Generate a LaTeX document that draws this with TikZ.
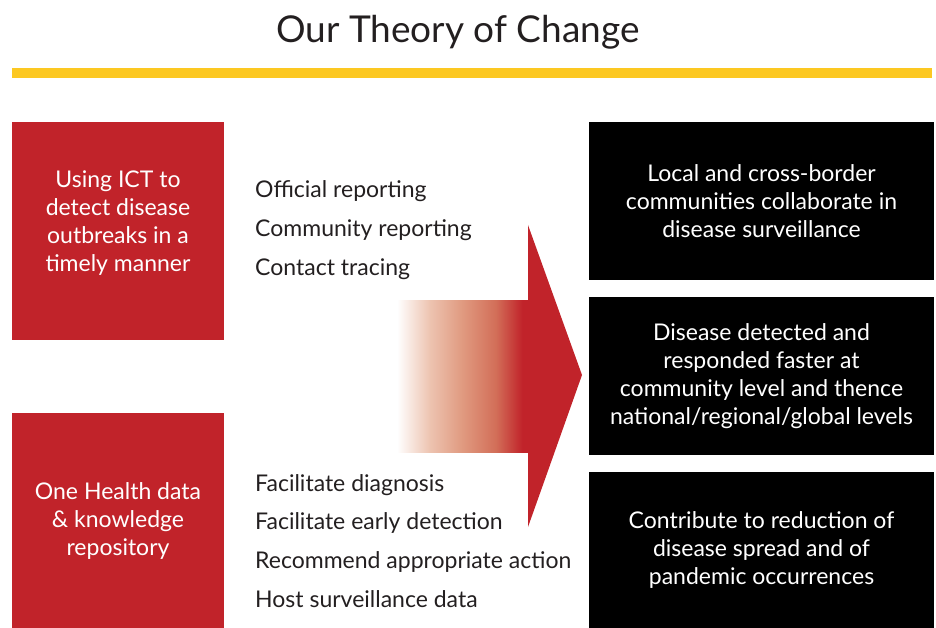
\documentclass[tikz,border=0pt]{standalone}
\usepackage{fontspec}
\setmainfont{Lato}
\usetikzlibrary{positioning}
\definecolor{tocred}{HTML}{C1232A}
\definecolor{tocyellow}{HTML}{FCC822}
\definecolor{toctext}{HTML}{231F20}
% degradado blanco -> salmon -> rojo para el cuerpo de la flecha
% (el rectangulo ocupa la parte de 25bp a 75bp)
\pgfdeclarehorizontalshading{arrowfade}{100bp}{
    rgb(0bp)=(1,1,1);
    rgb(25bp)=(1,1,1);
    rgb(37.5bp)=(0.929,0.765,0.690);
    rgb(50bp)=(0.878,0.6,0.498);
    rgb(62.5bp)=(0.824,0.431,0.345);
    rgb(72.5bp)=(0.757,0.137,0.165);
    rgb(100bp)=(0.757,0.137,0.165)}

\begin{document}
\begin{tikzpicture}[x=1pt,y=-1pt,
    redbox/.style={fill=tocred, minimum width=212pt, inner sep=0pt},
    blackbox/.style={fill=black, minimum width=345pt, inner sep=0pt},
    boxtext/.style={text=white, align=center, font=\fontsize{23}{28}\selectfont},
    item/.style={anchor=mid west, text=toctext, font=\fontsize{23}{28}\selectfont, inner sep=0pt}]
    \useasboundingbox (0,0) rectangle (936,628);
    % Titulo y barra amarilla
    \node[text=toctext, font=\fontsize{37}{40}\selectfont] (title) at (458,32) {Our Theory of Change};
    \fill[tocyellow] (12,68) rectangle (932,78);
    % Cajas rojas de la izquierda
    \node[redbox, minimum height=218pt] (ict) at (118,231) {};
    \node[boxtext] (icttext) at ([yshift=8pt]ict.center) {Using ICT to\\detect disease\\outbreaks in a\\timely manner};
    \node[redbox, minimum height=215pt, boxtext] (repo) at (118,520.5) {One Health data\\\& knowledge\\repository};
    % Listas del medio
    \node[item] (official) at (255,195) {Official reporting};
    \node[item] (community) at (255,234) {Community reporting};
    \node[item] (tracing) at (255,273) {Contact tracing};
    \node[item] (diagnosis) at (255,489) {Facilitate diagnosis};
    \node[item] (early) at (255,527) {Facilitate early detection};
    \node[item] (action) at (255,566) {Recommend appropriate action};
    \node[item] (host) at (255,605) {Host surveillance data};
    % Flecha con degradado
    \shade[shading=arrowfade] (397,300) rectangle (529,452);
    \fill[tocred] (528,225) -- (582,375) -- (528,527) -- cycle;
    % Cajas negras de la derecha
    \node[blackbox, minimum height=158pt, boxtext] (collab) at (761.5,201)
        {Local and cross-border\\communities collaborate in\\disease surveillance};
    \node[blackbox, minimum height=158pt, boxtext] (faster) at (761.5,376)
        {Disease detected and\\responded faster at\\community level and thence\\national/regional/global levels};
    \node[blackbox, minimum height=156pt, boxtext] (spread) at (761.5,550)
        {Contribute to reduction of\\disease spread and of\\pandemic occurrences};
\end{tikzpicture}
\end{document}
